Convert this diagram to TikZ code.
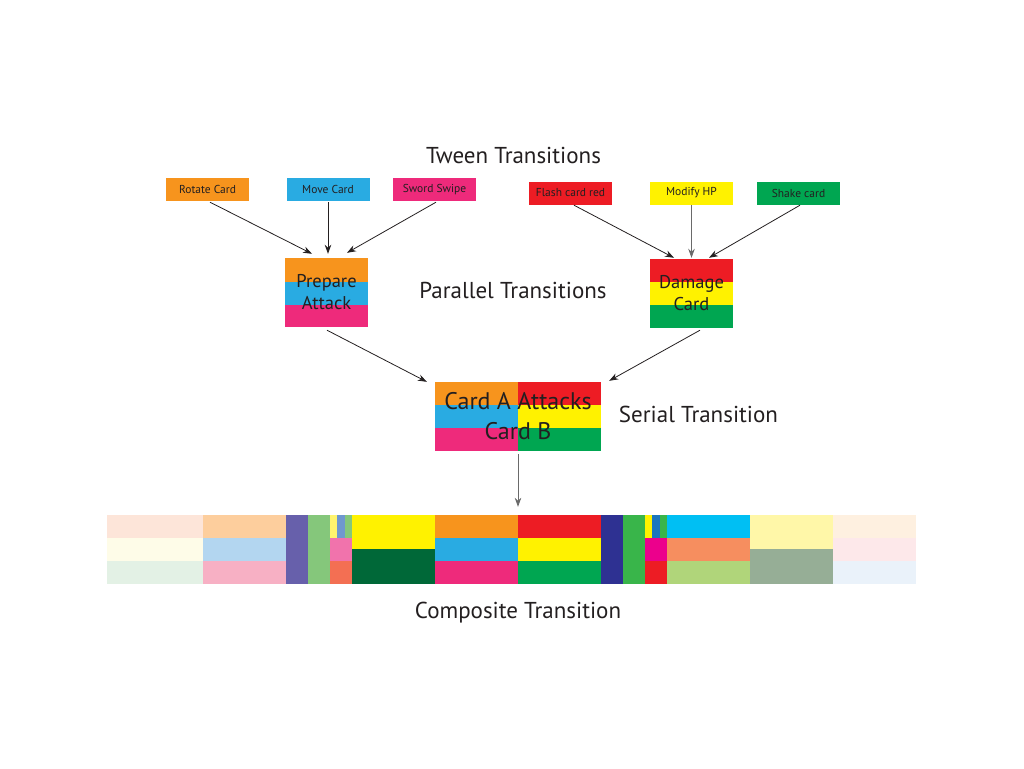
\documentclass[tikz,border=0pt]{standalone}
\usepackage{fontspec}
\setmainfont{PT Sans}
\usetikzlibrary{arrows.meta,calc}

\definecolor{txt}{HTML}{231F20}
\definecolor{orng}{HTML}{F7941D}
\definecolor{cyn}{HTML}{29ABE2}
\definecolor{pnk}{HTML}{EE2A7B}
\definecolor{rd}{HTML}{ED1C24}
\definecolor{yel}{HTML}{FFF200}
\definecolor{grn}{HTML}{00A651}
\definecolor{arrgray}{HTML}{6A6A6A}
\definecolor{peach}{HTML}{FDE5D9}
\definecolor{cream}{HTML}{FEFCE8}
\definecolor{mint}{HTML}{E3F1E5}
\definecolor{lorng}{HTML}{FDCE9D}
\definecolor{lblue}{HTML}{B3D6F0}
\definecolor{lpink}{HTML}{F7B0C4}
\definecolor{purp}{HTML}{6760AB}
\definecolor{lgrn}{HTML}{85C77B}
\definecolor{lyel}{HTML}{FFF46E}
\definecolor{mblue}{HTML}{6F98CF}
\definecolor{mpink}{HTML}{F173AC}
\definecolor{salm}{HTML}{F36F53}
\definecolor{dgrn}{HTML}{006838}
\definecolor{navy}{HTML}{2E3192}
\definecolor{ggrn}{HTML}{39B54A}
\definecolor{dblue}{HTML}{1C75BC}
\definecolor{mag}{HTML}{EC008C}
\definecolor{sky}{HTML}{00BFF3}
\definecolor{corl}{HTML}{F68E5F}
\definecolor{lime}{HTML}{B0D57A}
\definecolor{pyel}{HTML}{FFF7A8}
\definecolor{sage}{HTML}{96AE96}
\definecolor{ivory}{HTML}{FEF0E0}
\definecolor{blush}{HTML}{FDE8EA}
\definecolor{ice}{HTML}{EAF2FA}

\begin{document}
\begin{tikzpicture}[x=1pt,y=-1pt,
  tween/.style={minimum width=83pt,minimum height=23pt,inner sep=0pt,font=\fontsize{11.5}{13}\selectfont,text=txt},
  stack/.style={inner sep=0pt,align=center,text=txt},
  title/.style={anchor=base,font=\fontsize{23}{27}\selectfont,text=txt},
  arr/.style={-{Stealth[length=9pt,width=6.5pt]},line width=0.8pt,draw=txt}]

\useasboundingbox (0,0) rectangle (1024,768);

\node(tween)[title] at (513.5,163) {Tween Transitions};
\node(par)[title] at (513,298) {Parallel Transitions};
\node(ser)[title] at (698.5,422) {Serial Transition};
\node(comptxt)[title] at (518,618) {Composite Transition};

\node(rot)[tween,fill=orng] at (207.5,189.5) {Rotate Card};
\node(mov)[tween,fill=cyn] at (328,189.5) {Move Card};
\node(swd)[tween,fill=pnk] at (434.5,189.5) {Sword Swipe};
\node(fla)[tween,fill=rd] at (570.5,193) {Flash card red};
\node(hp)[tween,fill=yel] at (691.5,193) {Modify HP};
\node(shk)[tween,fill=grn] at (798.5,193) {Shake card};

\fill[orng] (285,258) rectangle (368,281.5);
\fill[cyn] (285,281.5) rectangle (368,304.5);
\fill[pnk] (285,304.5) rectangle (368,327);
\node(prep)[stack,minimum width=83pt,minimum height=69pt,font=\fontsize{18.5}{22}\selectfont] at (326.5,292.5) {Prepare\\Attack};

\fill[rd] (650,259) rectangle (733,282);
\fill[yel] (650,282) rectangle (733,305);
\fill[grn] (650,305) rectangle (733,328);
\node(dmg)[stack,minimum width=83pt,minimum height=69pt,font=\fontsize{18.5}{22}\selectfont] at (691.5,293.5) {Damage\\Card};

\fill[orng] (435,382) rectangle (518,405);
\fill[cyn] (435,405) rectangle (518,428);
\fill[pnk] (435,428) rectangle (518,451);
\fill[rd] (518,382) rectangle (601,405);
\fill[yel] (518,405) rectangle (601,428);
\fill[grn] (518,428) rectangle (601,451);
\node(atk)[stack,minimum width=166pt,minimum height=69pt,font=\fontsize{24}{30}\selectfont] at (518,416.5) {Card A Attacks\\Card B};

\fill[peach] (107,515) rectangle (203,538);
\fill[cream] (107,538) rectangle (203,561);
\fill[mint] (107,561) rectangle (203,584);
\fill[lorng] (203,515) rectangle (286,538);
\fill[lblue] (203,538) rectangle (286,561);
\fill[lpink] (203,561) rectangle (286,584);
\fill[purp] (286,515) rectangle (308,584);
\fill[lgrn] (308,515) rectangle (330,584);
\fill[lyel] (330,515) rectangle (337,538);
\fill[mblue] (337,515) rectangle (345,538);
\fill[lgrn] (345,515) rectangle (352,538);
\fill[mpink] (330,538) rectangle (352,561);
\fill[salm] (330,561) rectangle (352,584);
\fill[yel] (352,515) rectangle (435,549);
\fill[dgrn] (352,549) rectangle (435,584);
\fill[orng] (435,515) rectangle (518,538);
\fill[cyn] (435,538) rectangle (518,561);
\fill[pnk] (435,561) rectangle (518,584);
\fill[rd] (518,515) rectangle (601,538);
\fill[yel] (518,538) rectangle (601,561);
\fill[grn] (518,561) rectangle (601,584);
\fill[navy] (601,515) rectangle (623,584);
\fill[ggrn] (623,515) rectangle (645,584);
\fill[yel] (645,515) rectangle (652,538);
\fill[dblue] (652,515) rectangle (660,538);
\fill[ggrn] (660,515) rectangle (667,538);
\fill[mag] (645,538) rectangle (667,561);
\fill[rd] (645,561) rectangle (667,584);
\fill[sky] (667,515) rectangle (750,538);
\fill[corl] (667,538) rectangle (750,561);
\fill[lime] (667,561) rectangle (750,584);
\fill[pyel] (750,515) rectangle (833,549);
\fill[sage] (750,549) rectangle (833,584);
\fill[ivory] (833,515) rectangle (916,538);
\fill[blush] (833,538) rectangle (916,561);
\fill[ice] (833,561) rectangle (916,584);
\node(comp)[inner sep=0pt,minimum width=809pt,minimum height=69pt] at (511.5,549.5) {};

\draw[arr] ($(rot.south)+(2.5,1)$) -- ($(prep.north)+(-14.5,-4)$);
\draw[arr] ($(mov.south)+(0,1)$) -- ($(prep.north)+(1.5,-4)$);
\draw[arr] ($(swd.south)+(1.5,1)$) -- ($(prep.north)+(20.5,-5)$);

\draw[arr] ($(fla.south)+(3.5,0.5)$) -- ($(dmg.north)+(-17.5,-1)$);
\draw[arr,draw=arrgray] ($(hp.south)+(0,0.5)$) -- ($(dmg.north)+(0,-1)$);
\draw[arr] ($(shk.south)+(1.5,0.5)$) -- ($(dmg.north)+(17.5,-1)$);

\draw[arr] ($(prep.south)+(0.5,3)$) -- ($(atk.north west)+(-8,0)$);
\draw[arr] ($(dmg.south)+(8.5,2)$) -- ($(atk.north east)+(8,-1)$);

\draw[arr,draw=arrgray] ($(atk.south)+(0,3)$) -- ($(atk.south |- comp.north)+(0,-8)$);

\end{tikzpicture}
\end{document}
